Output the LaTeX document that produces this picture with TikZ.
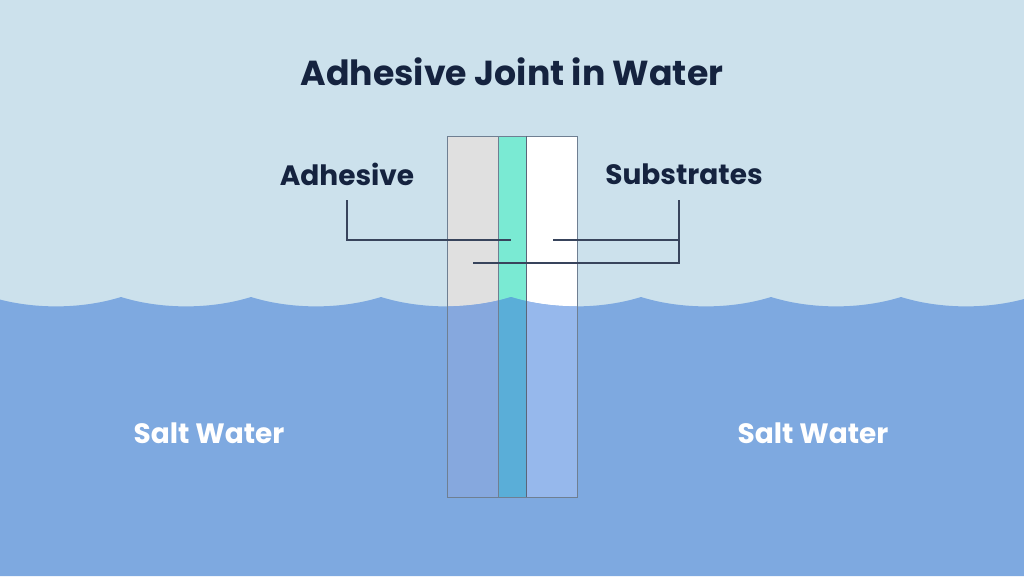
\documentclass[tikz,border=0pt]{standalone}
\usepackage{fontspec}
\setmainfont{Poppins}
\usepackage{tikz}
\usetikzlibrary{positioning, calc}

\definecolor{sky}{HTML}{CCE1EC}
\definecolor{sea}{HTML}{7EA9E0}
\definecolor{navy}{HTML}{15233F}
\definecolor{glue}{HTML}{7AEAD3}
\definecolor{plate}{HTML}{E0E0E0}
\definecolor{gluewet}{HTML}{5AAED8}
\definecolor{platewet}{HTML}{86A8DE}
\definecolor{whitewet}{HTML}{96B8EC}
\definecolor{edge}{HTML}{6F7F92}

\newcommand{\seasurface}{(-9,576) -- (-9,297)
  \foreach \x in {-9,121,...,901}{ .. controls (\x+40,309.5) and (\x+90,309.5) .. (\x+130,297)}
  -- (1031,576) -- cycle}

\begin{document}
\begin{tikzpicture}[x=1pt, y=-1pt,
title/.style={text=navy, font=\fontsize{34.7}{40}\selectfont\bfseries},
label/.style={text=navy, font=\fontsize{28}{32}\selectfont\bfseries},
wetlabel/.style={text=white, font=\fontsize{28}{32}\selectfont\bfseries},
leader/.style={draw=navy!85, line width=1.3pt},
outline/.style={draw=edge, line width=1pt}]
    \useasboundingbox (0,0) rectangle (1024,576);
    \clip (0,0) rectangle (1024,576);
    \fill[sky] (0,0) rectangle (1024,576);

    % joint above the water line
    \fill[plate] (447,136) rectangle (498,497);
    \fill[glue] (498,136) rectangle (526,497);
    \fill[white] (526,136) rectangle (577,497);

    \fill[sea] \seasurface;

    % joint below the water line
    \begin{scope}
      \clip \seasurface;
      \fill[platewet] (447,136) rectangle (498,497);
      \fill[gluewet] (498,136) rectangle (526,497);
      \fill[whitewet] (526,136) rectangle (577,497);
    \end{scope}
    \draw[outline] (447,136) rectangle (577,497);
    \draw[outline] (498,136) -- (498,497);
    \draw[navy!70, line width=1pt] (526,136) -- (526,497);

    \node[title](head) at (512,72) {Adhesive Joint in Water};
    \node[label](adh) at (347,174) {Adhesive};
    \node[label](sub) at (684,174) {Substrates};
    \node[wetlabel](left) at (209,433) {Salt Water};
    \node[wetlabel](right) at (813,433) {Salt Water};

    \coordinate (adh-top) at (347,200);
    \coordinate (adh-tip) at (511,240);
    \coordinate (sub-top) at (679,200);
    \coordinate (sub-tip1) at (553,240);
    \coordinate (sub-tip2) at (473,263);

    \draw[leader] (adh-top) |- (adh-tip);
    \draw[leader] (sub-top) |- (sub-tip2);
    \draw[leader] (sub-tip1) -- (sub-top |- sub-tip1);
\end{tikzpicture}
\end{document}
